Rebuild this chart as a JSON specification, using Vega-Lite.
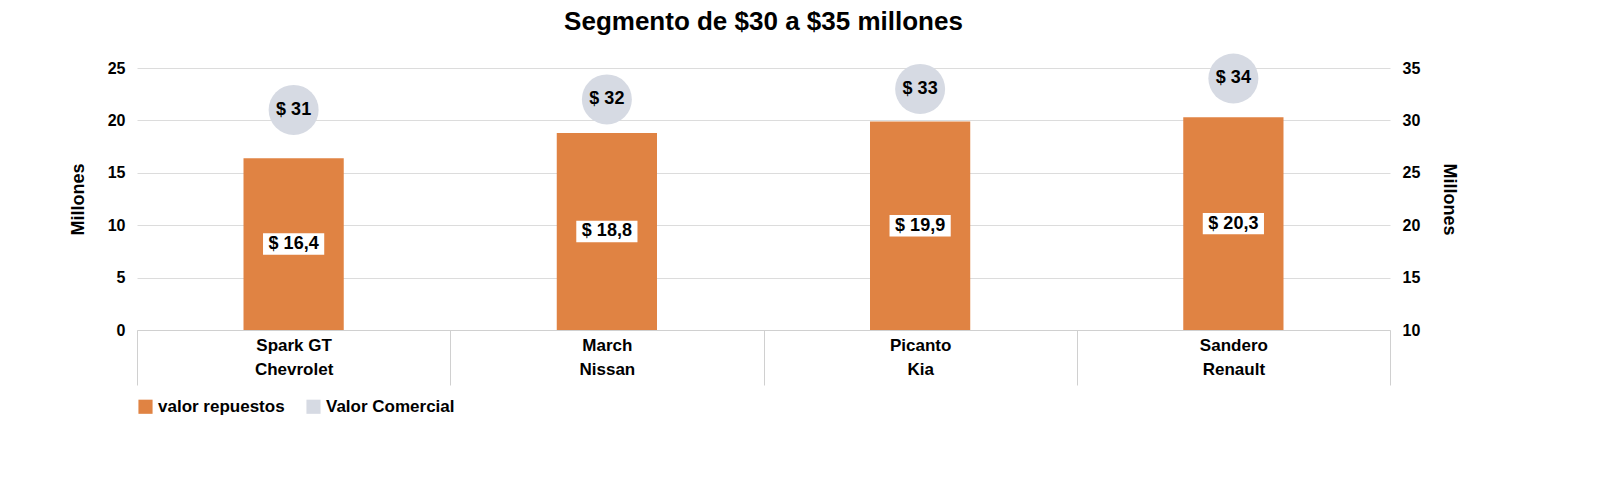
{
  "$schema": "https://vega.github.io/schema/vega-lite/v6.json",
  "autosize": "none",
  "width": 1253,
  "height": 262,
  "padding": {"left": 137, "top": 68, "right": 210, "bottom": 171},
  "background": "white",
  "config": {
    "font": "Liberation Sans",
    "view": {"stroke": null},
    "axis": {"labelFont": "Liberation Sans", "titleFont": "Liberation Sans", "labelFontSize": 16, "labelColor": "#000", "labelFontWeight": "bold", "titleFontSize": 18, "titleColor": "#000"}
  },
  "title": {"text": "Segmento de $30 a $35 millones", "fontSize": 26, "fontWeight": "bold", "color": "#000", "offset": 18, "anchor": "middle"},
  "data": {"values": [
    {"modelo": "Spark GT|Chevrolet", "repuestos": 16.4, "mitad": 8.2, "lab": "$ 16,4", "comercial": 31, "clab": "$ 31"},
    {"modelo": "March|Nissan", "repuestos": 18.8, "mitad": 9.4, "lab": "$ 18,8", "comercial": 32, "clab": "$ 32"},
    {"modelo": "Picanto|Kia", "repuestos": 19.9, "mitad": 9.95, "lab": "$ 19,9", "comercial": 33, "clab": "$ 33"},
    {"modelo": "Sandero|Renault", "repuestos": 20.3, "mitad": 10.15, "lab": "$ 20,3", "comercial": 34, "clab": "$ 34"}
  ]},
  "encoding": {
    "x": {"field": "modelo", "type": "nominal", "sort": null, "title": null,
      "scale": {"paddingInner": 0, "paddingOuter": 0},
      "axis": {"labelAngle": 0, "labelExpr": "split(datum.label, '|')", "labelLineHeight": 24, "labelPadding": -48, "domainColor": "#d0d0d0", "tickColor": "#d0d0d0", "tickBand": "extent", "tickSize": 55, "labelFontSize": 17}}
  },
  "layer": [
    {
      "layer": [
        {"mark": {"type": "bar", "color": "#E08343", "width": {"band": 0.32}},
         "encoding": {
           "y": {"field": "repuestos", "type": "quantitative", "title": "Millones", "scale": {"domain": [0, 25]},
             "axis": {"values": [0, 5, 10, 15, 20, 25], "gridColor": "#dcdcdc", "domain": false, "ticks": false, "labelPadding": 12, "titlePadding": 20}},
           "color": {"datum": "valor repuestos", "type": "nominal", "scale": {"domain": ["valor repuestos", "Valor Comercial"], "range": ["#E08343", "#D6DAE3"]},
             "legend": {"orient": "bottom", "direction": "horizontal", "title": null, "labelFontSize": 17, "labelFontWeight": "bold", "labelColor": "#000", "symbolSize": 200, "symbolType": "square", "offset": 12, "columnPadding": 20}}
         }},
        {"mark": {"type": "point", "filled": true, "color": "white", "opacity": 1, "size": 2600, "shape": "M-1.2,-0.42H1.2V0.42H-1.2Z"},
         "encoding": {"y": {"field": "mitad", "type": "quantitative", "scale": {"domain": [0, 25]}}}},
        {"mark": {"type": "text", "fontSize": 18, "fontWeight": "bold", "color": "#000"},
         "encoding": {"y": {"field": "mitad", "type": "quantitative", "scale": {"domain": [0, 25]}}, "text": {"field": "lab"}}}
      ]
    },
    {
      "layer": [
        {"mark": {"type": "circle", "size": 2500, "opacity": 1},
         "encoding": {
           "y": {"field": "comercial", "type": "quantitative", "title": "Millones", "scale": {"domain": [10, 35]},
             "axis": {"orient": "right", "values": [10, 15, 20, 25, 30, 35], "grid": false, "domain": false, "ticks": false, "labelPadding": 12, "titlePadding": 20}},
           "color": {"datum": "Valor Comercial", "type": "nominal"}
         }},
        {"mark": {"type": "text", "fontSize": 18, "fontWeight": "bold", "color": "#000"},
         "encoding": {"y": {"field": "comercial", "type": "quantitative", "scale": {"domain": [10, 35]}}, "text": {"field": "clab"}}}
      ]
    }
  ],
  "resolve": {"scale": {"y": "independent"}}
}
